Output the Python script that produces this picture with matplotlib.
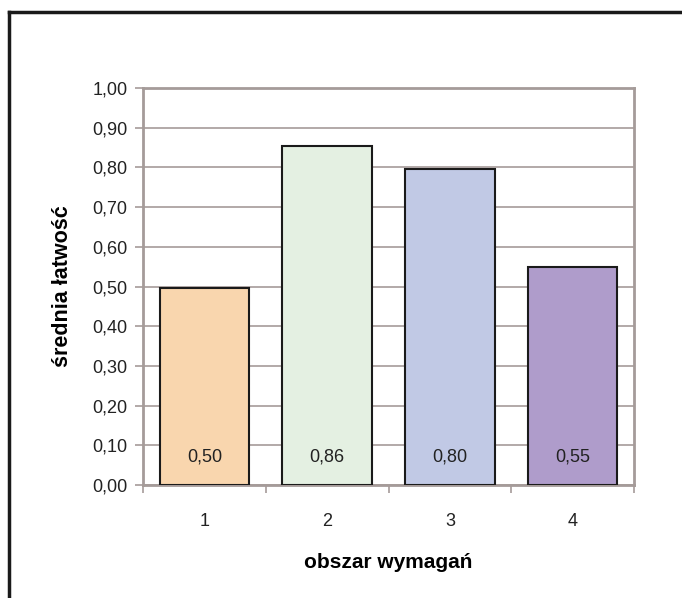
#!/usr/bin/env python

import matplotlib
matplotlib.use("Agg")
import matplotlib.pyplot as plt
from matplotlib.lines import Line2D
import numpy as np

categories = ["1", "2", "3", "4"]
values = [0.495, 0.855, 0.795, 0.55]
labels = ["0,50", "0,86", "0,80", "0,55"]
colors = ["#F9D6AE", "#E4F0E2", "#C1C9E5", "#AF9CCB"]
yticks = [0.0, 0.1, 0.2, 0.3, 0.4, 0.5, 0.6, 0.7, 0.8, 0.9, 1.0]

plt.rcParams['font.family'] = ['Liberation Sans', 'DejaVu Sans']
grey = "#A59B99"

fig = plt.figure(figsize=(6.82, 5.98), dpi=100)
ax = fig.add_axes([143 / 682, 1 - 485 / 598, (634 - 143) / 682, (485 - 88) / 598])

x = np.arange(1, len(categories) + 1)
ax.bar(x, values, width=0.73, color=colors, edgecolor="#1a1a1a", linewidth=1.5, zorder=3)
for xi, lab in zip(x, labels):
    ax.text(xi, 0.07, lab, ha="center", va="center", fontsize=13, color="#222222", zorder=4)

ax.set_xlim(0.5, 4.5)
ax.set_ylim(0, 1.0)
ax.set_yticks(yticks)
ax.set_yticklabels([("%.2f" % v).replace(".", ",") for v in yticks], fontsize=13, color="#222222")
ax.yaxis.grid(True, color=grey, linewidth=1.2, zorder=0)

# category labels centred, ticks on boundaries
ax.set_xticks(np.arange(0.5, 4.6, 1.0))
ax.set_xticklabels([])
ax.set_xticks(x, minor=True)
ax.set_xticklabels(categories, minor=True, fontsize=13, color="#222222")
ax.tick_params(axis="x", which="minor", length=0, pad=20)
ax.tick_params(axis="x", which="major", length=6, color=grey, width=1.2, direction="out")
ax.tick_params(axis="y", length=6, color=grey, width=1.2, direction="out", pad=5)

for s in ax.spines.values():
    s.set_color(grey)
    s.set_linewidth(2)

ax.set_ylabel("średnia łatwość", fontsize=15.5, fontweight="bold", labelpad=14)
ax.set_xlabel("obszar wymagań", fontsize=15, fontweight="bold", labelpad=17)

# outer frame (only left and top visible in the crop)
fig.add_artist(Line2D([8.5 / 682, 8.5 / 682], [0, 1 - 12 / 598], color="#1a1a1a", linewidth=2.5,
                      transform=fig.transFigure))
fig.add_artist(Line2D([8.5 / 682, 1], [1 - 12 / 598, 1 - 12 / 598], color="#1a1a1a", linewidth=2.5,
                      transform=fig.transFigure))

plt.savefig("out.png", dpi=100)
